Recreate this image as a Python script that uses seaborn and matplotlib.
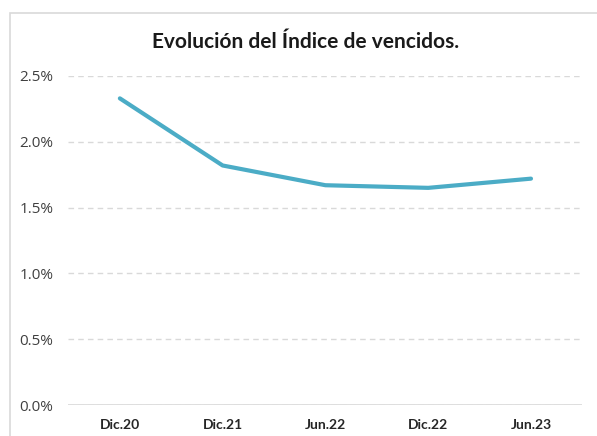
import pandas as pd
import matplotlib
matplotlib.use("Agg")
from matplotlib import pyplot as plt
from matplotlib.patches import Rectangle
from matplotlib.ticker import PercentFormatter
import seaborn as sbn

# Data
periods = ['Dic.20', 'Dic.21', 'Jun.22', 'Dic.22', 'Jun.23']
vencidos = [0.0233, 0.0182, 0.0167, 0.0165, 0.0172]

mydata = pd.DataFrame({'periodo': periods, 'indice': vencidos})

sbn.set_style('white')
plt.rcParams['font.family'] = ['Open Sans', 'DejaVu Sans']
lato = ['Lato', 'DejaVu Sans']

fig = plt.figure(figsize=(5.97, 4.36), dpi=100)
ax = fig.add_axes([0.1147, 0.0711, 0.8608, 0.7546])

# light outer border like the chart frame
fig.patches.append(Rectangle((10 / 597, -0.1), 1.2, 1 - 13 / 436 + 0.1,
                             transform=fig.transFigure, fill=False,
                             edgecolor='#D9D9D9', linewidth=1.2))

sbn.lineplot(data=mydata, x='periodo', y='indice', ax=ax,
             color='#4BACC6', linewidth=3, sort=False)

ax.set_xlim(-0.5, len(periods) - 0.5)
ax.set_ylim(0, 0.025)
ax.set_yticks([0, 0.005, 0.01, 0.015, 0.02, 0.025])
ax.yaxis.set_major_formatter(PercentFormatter(1.0, decimals=1))
ax.set_xticks(range(len(periods)), labels=periods, fontweight='bold',
              family=lato, fontsize=10, color='#262626')

ax.grid(axis='y', color='#D9D9D9', linestyle=(0, (4, 3)), linewidth=1)
ax.grid(axis='x', visible=False)
ax.axhline(0, color='#D9D9D9', linewidth=1.2, zorder=1)
for s in ax.spines.values():
    s.set_visible(False)

ax.tick_params(axis='y', length=0, pad=11, labelsize=11, labelcolor='#404040')
ax.tick_params(axis='x', length=0, pad=10)
ax.set_xlabel('')
ax.set_ylabel('')

fig.text(306 / 597, 1 - 42 / 436, 'Evolución del Índice de vencidos.',
         ha='center', va='center', fontsize=15, fontweight='bold',
         color='#1a1a1a', family=lato)

fig.savefig('out.png', dpi=100)
